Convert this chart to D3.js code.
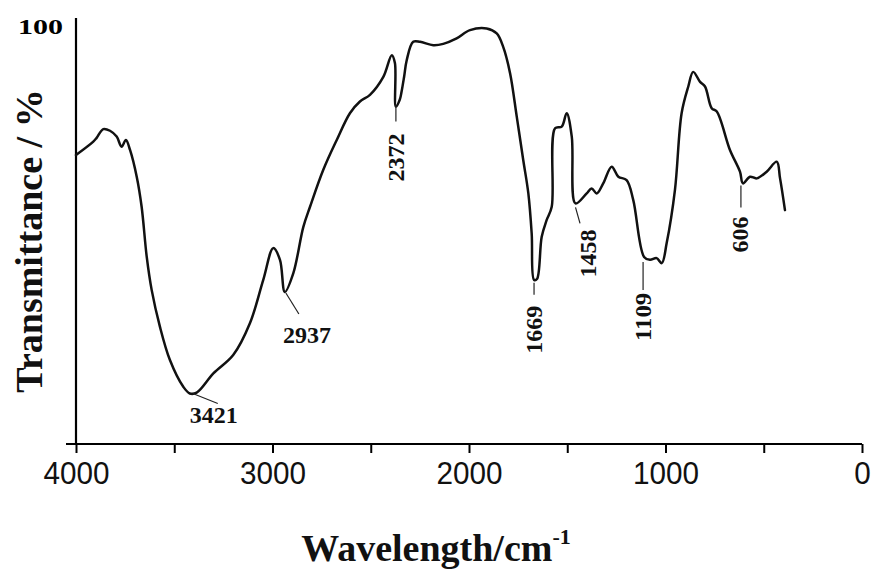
<!DOCTYPE html>
<html>
<head>
<meta charset="utf-8">
<script src="https://cdn.jsdelivr.net/npm/d3@7"></script>
<style>
  html, body { margin: 0; padding: 0; background: #fff; }
  svg { display: block; }
</style>
</head>
<body>
<svg id="chart" width="875" height="571"></svg>
<script>
// ---- data ----
const wavenumbers = [4000,3912,3895,3861,3827,3793,3768,3746,3725,3691,3666,3640,3615,3573,3522,3454,3421,3386,3301,3200,3115,3047,2996,2962,2937,2894,2843,2809,2742,2673,2606,2555,2504,2436,2393,2377,2372,2352,2343,2330,2317,2284,2249,2182,2131,2063,1995,1910,1859,1826,1791,1757,1724,1698,1681,1669,1654,1630,1605,1579,1562,1528,1503,1477,1458,1401,1376,1350,1317,1274,1240,1198,1164,1109,1079,1045,1019,994,952,918,884,859,824,799,765,739,672,621,606,570,536,485,434,417,392];
const transmittance = [69.2,72.4,73.3,75.4,75.0,73.6,71.2,72.8,70.4,64.0,56.8,44.8,36.9,28.1,20.1,13.7,12.1,12.3,16.9,21.3,28.9,39.3,46.9,44.1,36.4,40.9,52.0,56.8,65.6,72.8,79.2,82.0,83.6,87.9,93.1,91.2,80.8,82.5,84.4,88.0,91.9,96.3,96.3,95.5,95.8,97.1,99.1,99.5,98.3,95.1,88.8,78.4,68.0,60.0,50.4,39.3,39.5,49.6,53.6,56.8,75.6,76.0,79.2,73.6,57.6,60.0,61.2,60.0,62.4,66.4,64.0,63.2,58.4,44.8,44.1,44.5,43.3,48.1,60.8,79.2,85.6,89.1,86.7,85.6,80.4,79.6,70.4,65.2,62.4,64.0,63.6,65.2,67.6,63.6,56.0];
const peakLabels = ["3421","2937","2372","1669","1458","1109","606"];
const peakPositions = [3421,2937,2372,1669,1458,1109,606];
const xTickValues = [4000,3500,3000,2500,2000,1500,1000,500,0];
const xTickLabels = ["4000","","3000","","2000","","1000","","0"];
const yTickValues = [100];
const yTickLabels = ["100"];
const xTitle = "Wavelength/cm";
const xTitleSup = "-1";
const yTitle = "Transmittance / %";

// ---- layout ----
const svg = d3.select("#chart");
const x = d3.scaleLinear().domain([4000, 0]).range([76, 862]);
const y = d3.scaleLinear().domain([0, 102]).range([444, 18]);
const serif = "'Liberation Serif', 'Times New Roman', serif";
const sans = "'Liberation Sans', Arial, sans-serif";

// axes
const xAxis = d3.axisBottom(x).tickValues(xTickValues).tickSize(9).tickSizeOuter(0)
  .tickFormat((d, i) => xTickLabels[i]);
const gx = svg.append("g").attr("transform", `translate(0,${y(0)})`).call(xAxis);
gx.select(".domain").remove();
gx.selectAll(".tick line").attr("stroke", "#000").attr("stroke-width", 2);
gx.selectAll(".tick text")
  .attr("font-family", sans).attr("font-size", 31).attr("fill", "#111")
  .attr("y", 40).attr("dy", 0)
  .each(function(d, i) {
    const t = xTickLabels[i];
    if (t.length) d3.select(this).attr("textLength", t.length * 16.5).attr("lengthAdjust", "spacingAndGlyphs");
  });
gx.append("line").attr("x1", x(4000) - 10).attr("x2", x(0)).attr("y1", 0).attr("y2", 0)
  .attr("stroke", "#000").attr("stroke-width", 2.2);

// y axis line
svg.append("line").attr("x1", x(4000)).attr("x2", x(4000)).attr("y1", y(0)).attr("y2", y(102))
  .attr("stroke", "#000").attr("stroke-width", 2.2);
svg.selectAll(".ylab").data(yTickValues).enter().append("text")
  .attr("class", "ylab")
  .attr("x", x(4000) - 13).attr("y", d => y(d) + 8)
  .attr("text-anchor", "end")
  .attr("font-family", serif).attr("font-weight", "bold").attr("font-size", 22)
  .attr("textLength", 45).attr("lengthAdjust", "spacingAndGlyphs")
  .text((d, i) => yTickLabels[i]);

// spectrum
const pts = wavenumbers.map((w, i) => [w, transmittance[i]]);
const line = d3.line().x(d => x(d[0])).y(d => y(d[1])).curve(d3.curveCatmullRom.alpha(0.5));
svg.append("path").datum(pts).attr("d", line)
  .attr("fill", "none").attr("stroke", "#111").attr("stroke-width", 2.5)
  .attr("stroke-linejoin", "round").attr("stroke-linecap", "round");

// peak annotations: offsets relative to the curve point
const annLayout = {
  "3421": {rot: false, l: [3, 0, 28, 10], t: [24, 30]},
  "2937": {rot: false, l: [1, 1, 14, 22], t: [22, 51]},
  "2372": {rot: true,  l: [0, -2, 0, 15], t: [8, 51]},
  "1669": {rot: true,  l: [0, 3, 0, 15], t: [8, 50]},
  "1458": {rot: true,  l: [0, 4, 4.5, 20], t: [20, 50]},
  "1109": {rot: true,  l: [-1, 5, -1, 33], t: [7, 60]},
  "606":  {rot: true,  l: [-2, 2, -2, 24], t: [5, 51]}
};
peakLabels.forEach((lab, i) => {
  const w = peakPositions[i];
  const idx = wavenumbers.indexOf(w);
  const px = x(w), py = y(transmittance[idx]);
  const L = annLayout[lab];
  svg.append("line")
    .attr("x1", px + L.l[0]).attr("y1", py + L.l[1])
    .attr("x2", px + L.l[2]).attr("y2", py + L.l[3])
    .attr("stroke", "#222").attr("stroke-width", 1.2);
  const t = svg.append("text")
    .attr("font-family", serif).attr("font-size", 24).attr("fill", "#111")
    .attr("text-anchor", "middle").attr("font-weight", "bold")
    .attr("textLength", lab.length * 12).attr("lengthAdjust", "spacingAndGlyphs")
    .text(lab);
  if (L.rot) {
    t.attr("transform", `translate(${px + L.t[0]},${py + L.t[1]}) rotate(-90)`);
  } else {
    t.attr("x", px + L.t[0]).attr("y", py + L.t[1]);
  }
});

// titles
const xt = svg.append("text")
  .attr("x", 436).attr("y", 561)
  .attr("text-anchor", "middle")
  .attr("font-family", serif).attr("font-weight", "bold").attr("font-size", 38).attr("fill", "#111");
xt.append("tspan").text(xTitle);
xt.append("tspan").attr("font-size", 22).attr("dy", -17).text(xTitleSup);

svg.append("text")
  .attr("transform", "translate(42,241) rotate(-90)")
  .attr("text-anchor", "middle")
  .attr("font-family", serif).attr("font-weight", "bold").attr("font-size", 38).attr("fill", "#111")
  .text(yTitle);
</script>
</body>
</html>
